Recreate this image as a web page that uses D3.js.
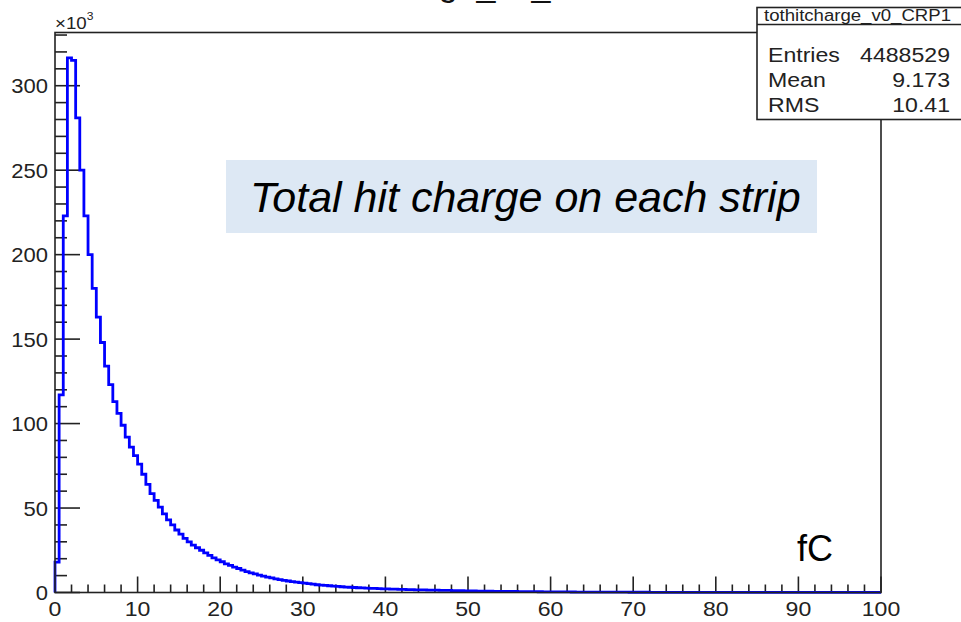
<!DOCTYPE html>
<html>
<head>
<meta charset="utf-8">
<script src="https://cdn.jsdelivr.net/npm/d3@7"></script>
<style>
  html, body { margin: 0; padding: 0; background: #fff; }
  svg { display: block; }
  text { font-family: "Liberation Sans", Arial, sans-serif; }
</style>
</head>
<body>
<svg id="mainplot" width="961" height="622"></svg>
<script>
// histogram tothitcharge_v0_CRP1, 200 bins of 0.5 fC from 0 to 100
const histName = "tothitcharge_v0_CRP1"
const xMin = 0, xMax = 100, nBins = 200
// bin contents, in units of 10^3 entries
const counts = [
  18, 117, 223, 316.5, 315, 281, 250, 223, 200, 180,
  163, 148, 134, 123, 113, 106, 99, 92, 86, 81,
  76, 70, 64, 58.5, 54.5, 50.5, 46.5, 43, 40, 37,
  34.5, 32, 30, 28, 26.5, 25, 23.5, 22, 20.5, 19.3,
  18.2, 17, 16, 15, 14.2, 13.3, 12.4, 11.6, 11, 10.3,
  9.7, 9.1, 8.6, 8.1, 7.6, 7.2, 6.8, 6.4, 6.1, 5.8,
  5.5, 5.2, 4.9, 4.6, 4.4, 4.2, 4.0, 3.8, 3.6, 3.4,
  3.2, 3.1, 2.95, 2.8, 2.7, 2.6, 2.5, 2.4, 2.3, 2.2,
  2.1, 2.0, 1.95, 1.9, 1.8, 1.75, 1.7, 1.6, 1.55, 1.5,
  1.45, 1.4, 1.35, 1.3, 1.25, 1.2, 1.15, 1.1, 1.05, 1.0,
  0.95, 0.9, 0.85, 0.82, 0.78, 0.75, 0.72, 0.69, 0.66, 0.63,
  0.6, 0.58, 0.55, 0.53, 0.5, 0.48, 0.46, 0.44, 0.42, 0.4,
  0.38, 0.36, 0.35, 0.33, 0.32, 0.3, 0.28, 0.27, 0.26, 0.25,
  0.24, 0.23, 0.22, 0.21, 0.2, 0.19, 0.18, 0.17, 0.17, 0.16,
  0.15, 0.15, 0.14, 0.14, 0.13, 0.13, 0.12, 0.12, 0.11, 0.11,
  0.1, 0.1, 0.1, 0.09, 0.09, 0.09, 0.08, 0.08, 0.08, 0.08,
  0.07, 0.07, 0.07, 0.07, 0.06, 0.06, 0.06, 0.06, 0.06, 0.05,
  0.05, 0.05, 0.05, 0.05, 0.05, 0.04, 0.04, 0.04, 0.04, 0.04,
  0.04, 0.04, 0.03, 0.03, 0.03, 0.03, 0.03, 0.03, 0.03, 0.03,
  0.03, 0.02, 0.02, 0.02, 0.02, 0.02, 0.02, 0.02, 0.02, 0.02
]
const xMajorTicks = [0, 10, 20, 30, 40, 50, 60, 70, 80, 90, 100]
const yMajorTicks = [0, 50, 100, 150, 200, 250, 300]
const statsLabels = ["Entries", "Mean", "RMS"]
const statsValues = ["4488529", "9.173", "10.41"]
const noteText = "Total hit charge on each strip"
const unitText = "fC"

// frame
const frame = {left: 55, right: 881, top: 32.5, bottom: 592.5}
const yMax = 331.5
const sx = 1.1  // ROOT text looks a bit wider than plain Helvetica
const ink = '#222'

const svg = d3.select('#mainplot')
const x = d3.scaleLinear().domain([xMin, xMax]).range([frame.left, frame.right])
const y = d3.scaleLinear().domain([0, yMax]).range([frame.bottom, frame.top])
const binWidth = (xMax - xMin) / nBins

// cut-off title at the very top
svg.append('text')
  .attr('x', 470).attr('y', -4)
  .attr('text-anchor', 'middle')
  .attr('font-size', 34)
  .attr('fill', '#111')
  .text(histName)

// ticks (inside the frame, like ROOT)
const xMinor = d3.range(xMin, xMax + 0.001, 2).filter(v => v % 10 !== 0)
const yMinor = d3.range(0, yMax, 10).filter(v => v % 50 !== 0)
const ticks = svg.append('g').attr('stroke', ink).attr('stroke-width', 1.6)

ticks.selectAll('.xt')
  .data(xMajorTicks.map(v => [v, 16]).concat(xMinor.map(v => [v, 8])))
  .join('line')
  .attr('class', 'xt')
  .attr('x1', d => x(d[0])).attr('x2', d => x(d[0]))
  .attr('y1', frame.bottom).attr('y2', d => frame.bottom - d[1])
ticks.selectAll('.yt')
  .data(yMajorTicks.map(v => [v, 25]).concat(yMinor.map(v => [v, 12])))
  .join('line')
  .attr('class', 'yt')
  .attr('y1', d => y(d[0])).attr('y2', d => y(d[0]))
  .attr('x1', frame.left).attr('x2', d => frame.left + d[1])

// tick labels
svg.append('g').selectAll('text')
  .data(xMajorTicks)
  .join('text')
  .attr('transform', d => `translate(${x(d)},616) scale(${sx},1)`)
  .attr('text-anchor', 'middle')
  .attr('font-size', 21)
  .attr('fill', ink)
  .text(d => d)
svg.append('g').selectAll('text')
  .data(yMajorTicks)
  .join('text')
  .attr('transform', d => `translate(48,${y(d) + 7.5}) scale(${sx},1)`)
  .attr('text-anchor', 'end')
  .attr('font-size', 20)
  .attr('fill', ink)
  .text(d => d)

// x10^3
const expo = svg.append('text')
  .attr('transform', `translate(55,28.5) scale(${sx},1)`)
  .attr('font-size', 17)
  .attr('fill', ink)
expo.append('tspan').text('\u00d710')
expo.append('tspan').attr('font-size', 11).attr('dy', -9).text('3')

// histogram outline
const pts = [[xMin, 0]]
counts.forEach((c, i) => pts.push([xMin + i * binWidth, c]))
pts.push([xMax, counts[counts.length - 1]])
const line = d3.line()
  .x(d => x(d[0]))
  .y(d => y(d[1]))
  .curve(d3.curveStepAfter)
svg.append('path')
  .attr('d', line(pts))
  .attr('fill', 'none')
  .attr('stroke', '#0000ff')
  .attr('stroke-width', 2.8)

// frame
svg.append('rect')
  .attr('x', frame.left).attr('y', frame.top)
  .attr('width', frame.right - frame.left)
  .attr('height', frame.bottom - frame.top)
  .attr('fill', 'none')
  .attr('stroke', ink)
  .attr('stroke-width', 1.6)

// stats box
const stats = svg.append('g')
stats.append('rect')
  .attr('x', 757).attr('y', 7.5)
  .attr('width', 220).attr('height', 112)
  .attr('fill', '#fff')
  .attr('stroke', ink)
  .attr('stroke-width', 1.6)
stats.append('line')
  .attr('x1', 757).attr('x2', 961)
  .attr('y1', 24.5).attr('y2', 24.5)
  .attr('stroke', ink)
  .attr('stroke-width', 1.4)
stats.append('text')
  .attr('x', 764).attr('y', 21)
  .attr('font-size', 16)
  .attr('textLength', 187)
  .attr('lengthAdjust', 'spacingAndGlyphs')
  .attr('fill', ink)
  .text(histName)
const rowY = [62, 86.5, 111.5]
statsLabels.forEach((lab, i) => {
  stats.append('text')
    .attr('transform', `translate(768,${rowY[i]}) scale(${sx},1)`)
    .attr('font-size', 21)
    .attr('fill', ink)
    .text(lab)
  stats.append('text')
    .attr('transform', `translate(950,${rowY[i]}) scale(${sx},1)`)
    .attr('text-anchor', 'end')
    .attr('font-size', 21)
    .attr('fill', ink)
    .text(statsValues[i])
})

// annotation box
svg.append('rect')
  .attr('x', 226).attr('y', 160)
  .attr('width', 591).attr('height', 73)
  .attr('fill', '#dde8f4')
svg.append('text')
  .attr('x', 250).attr('y', 212)
  .attr('font-size', 43)
  .attr('font-style', 'italic')
  .attr('fill', '#000')
  .text(noteText)

// unit label
svg.append('text')
  .attr('x', 797).attr('y', 561)
  .attr('font-size', 36)
  .attr('fill', '#000')
  .text(unitText)
</script>
</body>
</html>
